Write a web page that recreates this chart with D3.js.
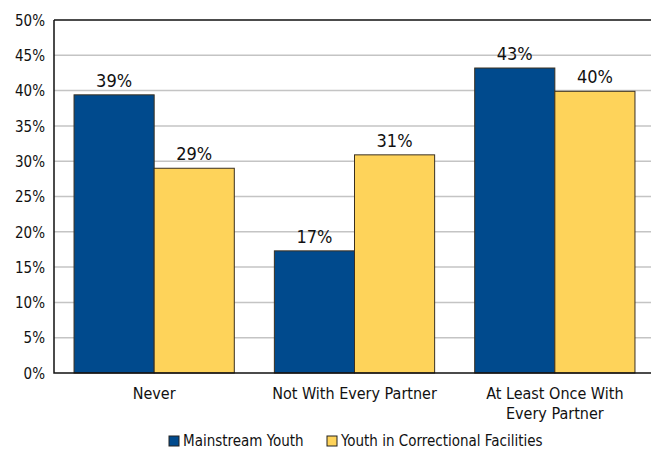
<!DOCTYPE html>
<html lang="en">
<head>
<meta charset="UTF-8">
<title>Chart</title>
<style>
    body{ margin:0; background:white; }
    svg text{ font-family:"Liberation Sans Narrow","DejaVu Sans Condensed",sans-serif; fill:#111; }
</style>
</head>
<body>
<script src="https://d3js.org/d3.v7.min.js"></script>
<script>

var categories = [["Never"], ["Not With Every Partner"], ["At Least Once With", "Every Partner"]];
var seriesNames = ["Mainstream Youth", "Youth in Correctional Facilities"];
var mainstream = [39.4, 17.3, 43.2];
var correctional = [29.0, 30.9, 39.9];
var valueLabels = [["39%", "17%", "43%"], ["29%", "31%", "40%"]];
var yTicks = [0, 5, 10, 15, 20, 25, 30, 35, 40, 45, 50];
var colors = ["#004a8d", "#fed35a"];

var width = 651, height = 450;
var margin = {top: 20, left: 54, bottom: 77, right: -4};

var svg = d3.select("body").append("svg")
    .attr("width", width)
    .attr("height", height);

var x0 = d3.scaleBand()
    .domain(d3.range(categories.length))
    .range([margin.left, width - margin.right])
    .paddingInner(0.2)
    .paddingOuter(0.1);

var x1 = d3.scaleBand()
    .domain([0, 1])
    .range([0, x0.bandwidth()]);

var y = d3.scaleLinear()
    .domain([0, 50])
    .range([height - margin.bottom, margin.top]);

// gridlines
svg.append("g")
    .selectAll("line")
    .data(yTicks.slice(1, -1))
    .enter().append("line")
    .attr("x1", margin.left)
    .attr("x2", width)
    .attr("y1", function(d){ return y(d); })
    .attr("y2", function(d){ return y(d); })
    .style("stroke", "#c4c4c4")
    .style("stroke-width", 1.5);

// y axis
var yAxis = svg.append("g")
    .attr("transform", "translate(" + margin.left + ",0)")
    .call(d3.axisLeft(y).tickValues(yTicks).tickSize(0).tickPadding(9)
        .tickFormat(function(d){ return d + "%"; }));
yAxis.select(".domain").remove();
yAxis.selectAll("text").style("font-size", "15px").attr("dy", "0.35em");

var series = [mainstream, correctional];

var groups = svg.append("g")
    .selectAll("g")
    .data(categories)
    .enter().append("g")
    .attr("transform", function(d, i){ return "translate(" + x0(i) + ",0)"; });

groups.selectAll("rect")
    .data(function(d, i){ return series.map(function(s, j){ return {s: j, v: s[i], c: i}; }); })
    .enter().append("rect")
    .attr("x", function(d){ return x1(d.s); })
    .attr("y", function(d){ return y(d.v); })
    .attr("width", x1.bandwidth())
    .attr("height", function(d){ return y(0) - y(d.v); })
    .style("fill", function(d){ return colors[d.s]; })
    .style("stroke", "#3a3020")
    .style("stroke-width", 1);

groups.selectAll(".val")
    .data(function(d, i){ return series.map(function(s, j){ return {s: j, v: s[i], c: i}; }); })
    .enter().append("text")
    .attr("class", "val")
    .attr("x", function(d){ return x1(d.s) + x1.bandwidth() / 2; })
    .attr("y", function(d){ return y(d.v) - 8; })
    .attr("text-anchor", "middle")
    .style("font-size", "18px")
    .text(function(d){ return valueLabels[d.s][d.c]; });

// frame
svg.append("path")
    .attr("d", "M" + margin.left + "," + y(50) + "H" + width)
    .style("stroke", "#111").style("stroke-width", 1.5).style("fill", "none");
svg.append("path")
    .attr("d", "M" + margin.left + "," + y(50) + "V" + y(0) + "H" + width)
    .style("stroke", "#111").style("stroke-width", 1.5).style("fill", "none");

// category labels
var cat = svg.append("g")
    .selectAll("text")
    .data(categories)
    .enter().append("text")
    .attr("x", function(d, i){ return x0(i) + x0.bandwidth() / 2; })
    .attr("y", 399)
    .attr("text-anchor", "middle")
    .style("font-size", "16px");
cat.selectAll("tspan")
    .data(function(d){ return d; })
    .enter().append("tspan")
    .attr("x", function(){ return d3.select(this.parentNode).attr("x"); })
    .attr("dy", function(d, i){ return i ? 20 : 0; })
    .text(function(d){ return d; });

// legend
var legendX = [169, 327];
var legend = svg.append("g")
    .selectAll("g")
    .data(seriesNames)
    .enter().append("g")
    .attr("transform", function(d, i){ return "translate(" + legendX[i] + ",436)"; });
legend.append("rect")
    .attr("width", 10).attr("height", 10)
    .style("fill", function(d, i){ return colors[i]; })
    .style("stroke", "#222").style("stroke-width", 1);
legend.append("text")
    .attr("x", 14).attr("y", 10)
    .style("font-size", "15px")
    .text(function(d){ return d; });

</script>
</body>
</html>
